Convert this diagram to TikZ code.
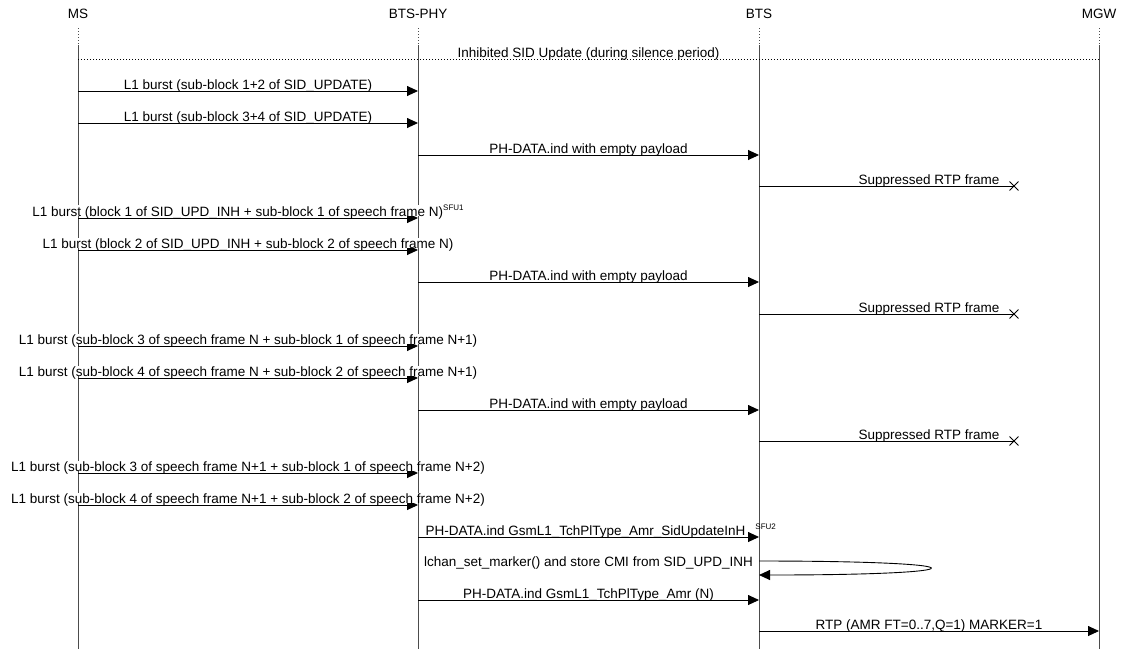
\documentclass[tikz,border=0pt]{standalone}
\usepackage{fontspec}
\setmainfont{Liberation Sans}
\usetikzlibrary{arrows.meta,calc,shapes.misc}
\newcommand{\sfuid}[1]{\raisebox{5.5pt}{\fontsize{8}{9}\selectfont #1}}
\begin{document}
\begin{tikzpicture}[x=1pt,y=-1pt,
  font=\fontsize{13.5}{16}\selectfont,
  head/.style={anchor=center, inner sep=0pt},
  life/.style={draw=black!70, line width=0.8pt},
  lifedot/.style={draw=black!70, line width=0.8pt, dash pattern=on 1pt off 2pt},
  divline/.style={draw=black, line width=0.8pt, dash pattern=on 1pt off 2pt},
  msg/.style={draw=black, line width=0.9pt, -{Triangle[length=11pt,width=10pt]}},
  lost/.style={draw=black, line width=0.9pt},
  lostx/.style={cross out, draw=black, line width=0.9pt, minimum size=8pt, inner sep=0pt},
  lbl/.style={fill=white, anchor=base, inner xsep=1pt, inner ysep=0pt, text depth=0pt, yshift=2pt},
]
\useasboundingbox (0,0) rectangle (1121,649);
% lifeline heads
\node[head] (ms)  at (78,14)   {MS};
\node[head] (phy) at (418,14)  {BTS-PHY};
\node[head] (bts) at (759,14)  {BTS};
\node[head] (mgw) at (1099,14) {MGW};
% helper coordinates
\coordinate (top) at (0,28);
\coordinate (mid) at (0,45);
\coordinate (bot) at (0,649);
\coordinate (cMP) at ($(ms)!0.5!(phy)$);
\coordinate (cPB) at ($(phy)!0.5!(bts)$);
\coordinate (cBM) at ($(bts)!0.5!(mgw)$);
\coordinate (div) at (0,59);
\coordinate (r1) at (0,91);
\coordinate (r2) at (0,123);
\coordinate (r3) at (0,155);
\coordinate (r4) at (0,186);
\coordinate (r5) at (0,218);
\coordinate (r6) at (0,250);
\coordinate (r7) at (0,282);
\coordinate (r8) at (0,314);
\coordinate (r9) at (0,346);
\coordinate (r10) at (0,378);
\coordinate (r11) at (0,410);
\coordinate (r12) at (0,441);
\coordinate (r13) at (0,473);
\coordinate (r14) at (0,505);
\coordinate (r15) at (0,537);
\coordinate (l1) at (0,561);
\coordinate (l0) at (0,568);
\coordinate (l2) at (0,575);
\coordinate (r16) at (0,600);
\coordinate (r17) at (0,631);
% lifelines
\foreach \n in {ms,phy,bts,mgw}{
  \draw[lifedot] (\n |- top) -- (\n |- mid);
  \draw[life] (\n |- mid) -- (\n |- bot);
}
% divider
\draw[divline] (ms |- div) -- (mgw |- div);
% arrows
\draw[msg] (ms |- r1) -- (phy |- r1);
\draw[msg] (ms |- r2) -- (phy |- r2);
\draw[msg] (phy |- r3) -- (bts |- r3);
\draw[lost] (bts |- r4) -- ($(bts |- r4)!0.75!(mgw |- r4)$) node[lostx] (x4) {};
\draw[msg] (ms |- r5) -- (phy |- r5);
\draw[msg] (ms |- r6) -- (phy |- r6);
\draw[msg] (phy |- r7) -- (bts |- r7);
\draw[lost] (bts |- r8) -- ($(bts |- r8)!0.75!(mgw |- r8)$) node[lostx] (x8) {};
\draw[msg] (ms |- r9) -- (phy |- r9);
\draw[msg] (ms |- r10) -- (phy |- r10);
\draw[msg] (phy |- r11) -- (bts |- r11);
\draw[lost] (bts |- r12) -- ($(bts |- r12)!0.75!(mgw |- r12)$) node[lostx] (x12) {};
\draw[msg] (ms |- r13) -- (phy |- r13);
\draw[msg] (ms |- r14) -- (phy |- r14);
\draw[msg] (phy |- r15) -- (bts |- r15);
\draw[msg] (bts |- l1) .. controls +(228,0) and +(228,0) .. (bts |- l2);
\draw[msg] (phy |- r16) -- (bts |- r16);
\draw[msg] (bts |- r17) -- (mgw |- r17);
% labels
\node[lbl] at (cPB |- div) {Inhibited SID Update (during silence period)};
\node[lbl] at (cMP |- r1) {L1 burst (sub-block 1+2 of SID\_UPDATE)};
\node[lbl] at (cMP |- r2) {L1 burst (sub-block 3+4 of SID\_UPDATE)};
\node[lbl] at (cPB |- r3) {PH-DATA.ind with empty payload};
\node[lbl] at (cBM |- r4) {Suppressed RTP frame};
\node[lbl] at (cMP |- r5) {L1 burst (block 1 of SID\_UPD\_INH + sub-block 1 of speech frame N)\sfuid{SFU1}};
\node[lbl] at (cMP |- r6) {L1 burst (block 2 of SID\_UPD\_INH + sub-block 2 of speech frame N)};
\node[lbl] at (cPB |- r7) {PH-DATA.ind with empty payload};
\node[lbl] at (cBM |- r8) {Suppressed RTP frame};
\node[lbl] at (cMP |- r9) {L1 burst (sub-block 3 of speech frame N + sub-block 1 of speech frame N+1)};
\node[lbl] at (cMP |- r10) {L1 burst (sub-block 4 of speech frame N + sub-block 2 of speech frame N+1)};
\node[lbl] at (cPB |- r11) {PH-DATA.ind with empty payload};
\node[lbl] at (cBM |- r12) {Suppressed RTP frame};
\node[lbl] at (cMP |- r13) {L1 burst (sub-block 3 of speech frame N+1 + sub-block 1 of speech frame N+2)};
\node[lbl] at (cMP |- r14) {L1 burst (sub-block 4 of speech frame N+1 + sub-block 2 of speech frame N+2)};
\node[lbl, xshift=-3pt] at (cPB |- r15) {PH-DATA.ind GsmL1\_TchPlType\_Amr\_SidUpdateInH\rlap{\hspace{10pt}\sfuid{SFU2}}};
\node[lbl] at (cPB |- l0) {lchan\_set\_marker() and store CMI from SID\_UPD\_INH};
\node[lbl] at (cPB |- r16) {PH-DATA.ind GsmL1\_TchPlType\_Amr (N)};
\node[lbl] at (cBM |- r17) {RTP (AMR FT=0..7,Q=1) MARKER=1};
\end{tikzpicture}
\end{document}
